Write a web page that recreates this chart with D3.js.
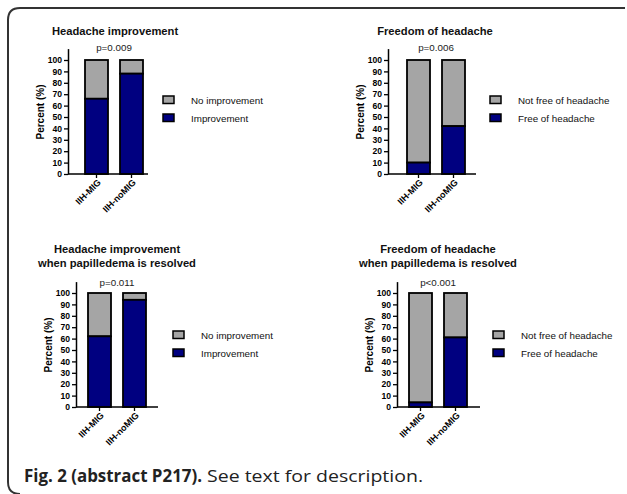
<!DOCTYPE html>
<html><head><meta charset="utf-8">
<script src="https://cdn.jsdelivr.net/npm/d3@7"></script>
<style>body{margin:0;background:#fff}svg{display:block}</style>
</head><body>
<script>
// ---- data ----
const categories = ["IIH-MIG", "IIH-noMIG"];
const yTicks = [0,10,20,30,40,50,60,70,80,90,100];
const improvement = [66, 88];            // panel A
const freedom = [10, 42];                // panel B
const improvementResolved = [62, 94];    // panel C
const freedomResolved = [4, 61];         // panel D
const pValues = ["p=0.009", "p=0.006", "p=0.011", "p<0.001"];
const titles = [["Headache improvement"], ["Freedom of headache"],
  ["Headache improvement", "when papilledema is resolved"],
  ["Freedom of headache", "when papilledema is resolved"]];
const legendImprove = ["No improvement", "Improvement"];
const legendFree = ["Not free of headache", "Free of headache"];

const W = 627, H = 494;
const NAVY = "#000080", GREY = "#a5a5a5";
const svg = d3.select("body").append("svg").attr("width", W).attr("height", H);

// frame
svg.append("path")
  .attr("d", "M625,8 L20,8 Q8,8 8,20 L8,482 Q8,494 20,494")
  .attr("fill", "none").attr("stroke", "#333").attr("stroke-width", 2);

const panels = [
  {vals: improvement, p: pValues[0], title: titles[0], legend: legendImprove,
   ax: 68, yb: 174, yt: 60, barStart: 85, axEnd: 148, legX: 163, legY: 100, titleX: 115, titleY: 35, pY: 51},
  {vals: freedom, p: pValues[1], title: titles[1], legend: legendFree,
   ax: 388, yb: 174, yt: 60, barStart: 407, axEnd: 476, legX: 490, legY: 100, titleX: 435, titleY: 35, pY: 51},
  {vals: improvementResolved, p: pValues[2], title: titles[2], legend: legendImprove,
   ax: 76, yb: 407, yt: 293, barStart: 88, axEnd: 158, legX: 173, legY: 335, titleX: 117, titleY: 253, pY: 286},
  {vals: freedomResolved, p: pValues[3], title: titles[3], legend: legendFree,
   ax: 397, yb: 407, yt: 293, barStart: 409, axEnd: 480, legX: 493, legY: 335, titleX: 438, titleY: 253, pY: 286}
];

const FONT = "'Liberation Sans', Arial, sans-serif";
const barW = 23, step = 35;

panels.forEach(P => {
  const g = svg.append("g");
  const yTop110 = P.yb - (P.yb - P.yt) * 1.1;
  const y = d3.scaleLinear().domain([0, 110]).range([P.yb, yTop110]);
  const pi = 1 - barW / step;
  const x = d3.scaleBand().domain(categories)
    .range([P.barStart - step * 0.171, P.barStart + step * 0.171 + step * (2 - pi)])
    .paddingInner(pi).paddingOuter(0.171);

  // bars
  categories.forEach((c, i) => {
    const v = P.vals[i];
    g.append("rect").attr("x", x(c)).attr("width", x.bandwidth())
      .attr("y", y(100)).attr("height", y(v) - y(100))
      .attr("fill", GREY).attr("stroke", "#000").attr("stroke-width", 1.8);
    g.append("rect").attr("x", x(c)).attr("width", x.bandwidth())
      .attr("y", y(v)).attr("height", y(0) - y(v))
      .attr("fill", NAVY).attr("stroke", "#000").attr("stroke-width", 1.8);
  });

  // y axis
  const ya = g.append("g").attr("transform", `translate(${P.ax},0)`)
    .call(d3.axisLeft(y).tickValues(yTicks).tickSize(4).tickPadding(2).tickSizeOuter(0));
  ya.select(".domain").attr("stroke-width", 1.5);
  ya.selectAll(".tick line").attr("stroke-width", 1.3);
  ya.selectAll("text").attr("font-family", FONT).attr("font-size", 8.6).attr("font-weight", "bold").attr("fill", "#000");

  // x axis
  const xa = g.append("g").attr("transform", `translate(0,${P.yb})`)
    .call(d3.axisBottom(x).tickSize(4).tickSizeOuter(0));
  xa.select(".domain").attr("d", `M${P.ax},0H${P.axEnd}`).attr("stroke-width", 1.5);
  xa.selectAll(".tick line").attr("stroke-width", 1.3);
  xa.selectAll("text").attr("font-family", FONT).attr("font-size", 9).attr("font-weight", "bold").attr("fill", "#000")
    .attr("text-anchor", "end").attr("dy", 0).attr("y", 0)
    .attr("transform", "translate(5,9) rotate(-45)");

  // y label
  g.append("text").attr("transform", `translate(${P.ax - 24},${(P.yb + P.yt) / 2 - 5}) rotate(-90)`)
    .attr("text-anchor", "middle").attr("font-family", FONT).attr("font-size", 10).attr("font-weight", "bold")
    .text("Percent (%)");

  // title
  P.title.forEach((t, i) => {
    g.append("text").attr("x", P.titleX).attr("y", P.titleY + i * 14).attr("text-anchor", "middle")
      .attr("font-family", FONT).attr("font-size", 11.2).attr("font-weight", "bold").attr("fill", "#111").text(t);
  });
  // p value
  g.append("text").attr("x", (x(categories[0]) + x(categories[1]) + x.bandwidth()) / 2).attr("y", P.pY)
    .attr("text-anchor", "middle").attr("font-family", FONT).attr("font-size", 9.8).attr("fill", "#222").text(P.p);

  // legend
  const colors = [GREY, NAVY];
  P.legend.forEach((t, i) => {
    const ly = P.legY + i * 18;
    g.append("rect").attr("x", P.legX).attr("y", ly - 4).attr("width", 11).attr("height", 7.5)
      .attr("fill", colors[i]).attr("stroke", "#000").attr("stroke-width", 1.5);
    g.append("text").attr("x", P.legX + 28).attr("y", ly + 3.5).attr("font-family", FONT).attr("font-size", 9.8)
      .attr("fill", "#111").text(t);
  });
});

// caption
const cap = svg.append("text").attr("y", 482).attr("font-family", "'Open Sans', sans-serif")
  .attr("font-size", 17).attr("fill", "#222");
cap.append("tspan").attr("x", 24).attr("font-weight", "bold")
  .attr("textLength", 178).attr("lengthAdjust", "spacingAndGlyphs").text("Fig. 2 (abstract P217).");
cap.append("tspan").attr("x", 207)
  .attr("textLength", 216).attr("lengthAdjust", "spacingAndGlyphs").text("See text for description.");
</script>
</body></html>
